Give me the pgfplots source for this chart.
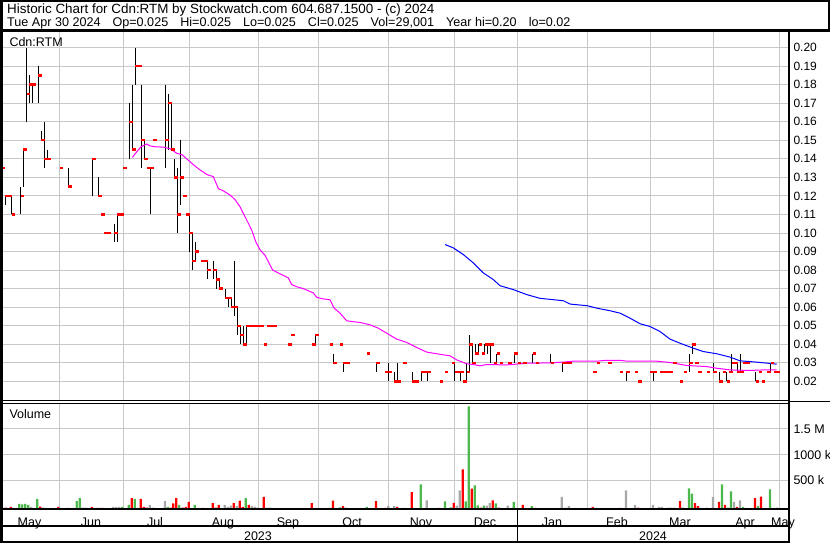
\documentclass[border=0pt]{standalone}
\usepackage{fontspec}
\setmainfont{Liberation Sans}
\usepackage{pgfplots}
\usepackage{pgfplotstable}
\pgfplotsset{compat=1.18}

\definecolor{gridgray}{RGB}{200,200,200}
\definecolor{volgreen}{RGB}{76,184,76}
\definecolor{volgray}{RGB}{168,168,168}
\definecolor{mapink}{RGB}{255,0,255}
\definecolor{mablue}{RGB}{0,0,255}

% red close tick, drawn to the right of the bar
\pgfdeclareplotmark{closetick}{%
  \pgfpathrectangle{\pgfpoint{0pt}{-1.2pt}}{\pgfpoint{3.3pt}{2.4pt}}%
  \pgfusepathqfill}

% x = position along the time axis (1 unit = one pixel of the chart)
\pgfplotstableread{
x hi lo cl
2 0.135 0.135 0.135
5.3 0.12 0.115 0.12
8.7 0.12 0.12 0.12
11.7 0.12 0.11 0.11
20.7 0.125 0.11 0.12
23.3 0.145 0.125 0.145
26.7 0.20 0.16 0.175
29.3 0.185 0.17 0.18
32.3 0.18 0.17 0.18
38.3 0.19 0.17 0.185
41.3 0.155 0.15 0.15
44.3 0.16 0.135 0.14
47.3 0.145 0.14 0.14
60 0.135 0.135 0.135
68.3 0.135 0.125 0.125
92.3 0.14 0.12 0.14
98.3 0.13 0.12 0.12
101.3 0.11 0.11 0.11
104.3 0.10 0.10 0.10
107.3 0.10 0.10 0.10
114.3 0.105 0.095 0.10
117.3 0.11 0.095 0.11
120.3 0.11 0.11 0.11
123.3 0.135 0.135 0.135
129.3 0.17 0.14 0.16
132.3 0.18 0.145 0.145
135.3 0.20 0.18 0.19
138.3 0.19 0.19 0.19
141.3 0.18 0.135 0.15
144.3 0.15 0.14 0.14
147.3 0.135 0.135 0.135
150.3 0.135 0.11 0.135
153.3 0.15 0.15 0.15
165.3 0.18 0.135 0.15
168.3 0.175 0.145 0.17
171.3 0.17 0.145 0.145
174.3 0.14 0.13 0.13
177.3 0.135 0.10 0.11
180.3 0.15 0.115 0.13
183.3 0.12 0.12 0.12
186.3 0.11 0.11 0.11
189.3 0.11 0.09 0.10
192.3 0.10 0.08 0.085
195.3 0.095 0.085 0.09
201.3 0.085 0.085 0.085
204.3 0.085 0.085 0.085
207.3 0.085 0.075 0.08
213.3 0.085 0.075 0.08
216.3 0.08 0.07 0.075
219.3 0.075 0.07 0.07
225.3 0.07 0.065 0.065
228.3 0.065 0.06 0.065
231.3 0.065 0.06 0.06
234.3 0.085 0.055 0.06
237.3 0.06 0.045 0.05
240.3 0.05 0.04 0.045
243.3 0.05 0.04 0.04
246.3 0.05 0.04 0.05
249.3 0.05 0.05 0.05
252.3 0.05 0.05 0.05
255.3 0.05 0.05 0.05
258.3 0.05 0.05 0.05
261 0.05 0.05 0.05
264 0.04 0.04 0.04
267.3 0.05 0.05 0.05
270.3 0.05 0.05 0.05
273.3 0.05 0.05 0.05
288.3 0.04 0.04 0.04
291.3 0.045 0.045 0.045
312.3 0.04 0.04 0.04
315.3 0.045 0.04 0.045
330 0.04 0.04 0.04
333.3 0.035 0.03 0.03
340 0.04 0.04 0.04
343.3 0.03 0.025 0.03
346.3 0.03 0.03 0.03
366.7 0.035 0.035 0.035
376.3 0.03 0.025 0.03
385 0.025 0.025 0.025
388.3 0.03 0.02 0.025
394.3 0.025 0.02 0.02
397.3 0.03 0.02 0.02
403.3 0.03 0.03 0.03
412.3 0.025 0.02 0.02
415.3 0.02 0.02 0.02
421.3 0.025 0.02 0.025
424.3 0.025 0.025 0.025
427.3 0.025 0.02 0.025
440 0.02 0.02 0.02
445 0.025 0.025 0.025
451.7 0.03 0.03 0.03
454.7 0.03 0.02 0.025
457.7 0.025 0.025 0.025
460.7 0.025 0.02 0.025
463.3 0.02 0.02 0.02
466.7 0.03 0.02 0.025
469.3 0.045 0.025 0.04
472.3 0.04 0.03 0.03
475.3 0.04 0.035 0.035
478.7 0.04 0.035 0.04
481.7 0.035 0.035 0.035
484.7 0.04 0.035 0.04
487.7 0.04 0.035 0.04
490.7 0.04 0.03 0.04
493.7 0.03 0.03 0.03
496.7 0.035 0.03 0.035
499.7 0.03 0.03 0.03
508.3 0.03 0.03 0.03
514.3 0.035 0.03 0.035
518 0.03 0.03 0.03
523.3 0.03 0.03 0.03
532.7 0.035 0.03 0.035
536 0.03 0.03 0.03
550.7 0.035 0.03 0.03
562.3 0.03 0.025 0.03
565.3 0.03 0.03 0.03
568.3 0.03 0.03 0.03
593.3 0.025 0.025 0.025
596.7 0.03 0.03 0.03
608.3 0.03 0.03 0.03
620 0.025 0.025 0.025
626.3 0.025 0.02 0.025
635 0.025 0.025 0.025
638.3 0.02 0.02 0.02
650 0.025 0.025 0.025
653.3 0.025 0.02 0.025
660 0.025 0.025 0.025
663.3 0.025 0.025 0.025
666.7 0.025 0.025 0.025
670 0.025 0.025 0.025
673.3 0.03 0.03 0.03
680 0.02 0.02 0.02
684 0.025 0.025 0.025
689.3 0.035 0.025 0.03
692.3 0.04 0.035 0.04
695.3 0.03 0.03 0.03
698.3 0.025 0.025 0.025
707 0.025 0.025 0.025
713.3 0.03 0.025 0.025
719.3 0.025 0.02 0.02
723 0.025 0.025 0.025
726.7 0.025 0.02 0.02
729.3 0.025 0.025 0.025
731.7 0.035 0.025 0.03
734.7 0.03 0.03 0.03
737.3 0.03 0.025 0.025
740.3 0.035 0.025 0.025
743.3 0.03 0.03 0.03
746.7 0.03 0.03 0.03
755.7 0.025 0.02 0.02
758.7 0.025 0.025 0.025
761.7 0.02 0.02 0.02
767.3 0.025 0.025 0.025
770.7 0.03 0.025 0.03
773.7 0.025 0.025 0.025
776.7 0.025 0.025 0.025
}\ohlc

% c: 1 = up (green), 2 = down (red), 0 = unchanged (grey)
\pgfplotstableread{
x v c
1.7 13000 0
4 26000 0
6 26000 2
10.7 39000 2
19.3 97000 1
22.3 90000 1
25.3 97000 1
28.3 78000 1
31.3 39000 0
37.3 194000 1
40.3 45000 2
43.3 26000 0
46.3 20000 0
58.3 39000 2
67.7 20000 2
73.7 20000 0
76.7 155000 1
79.7 213000 1
82.7 26000 0
85.7 26000 0
91.7 39000 2
97.3 20000 2
100.3 20000 2
103.3 20000 2
113.3 39000 0
116.3 39000 0
119.3 39000 0
122.3 39000 1
128.7 78000 1
131.7 213000 2
134.7 194000 1
137.7 20000 0
140.7 194000 2
143.7 39000 2
146.7 26000 2
149.7 78000 0
152.7 26000 0
165 155000 0
167.7 39000 1
170.7 26000 2
173.3 107000 2
176.3 213000 2
179.3 78000 1
182.7 26000 2
185.7 39000 2
188.7 136000 2
194.7 78000 1
203.3 20000 2
212.7 116000 2
215.7 26000 2
218.7 78000 2
224.7 78000 0
227.7 39000 0
230.7 65000 0
233.7 116000 2
236.7 58000 0
239.7 160000 2
242.7 39000 2
245.7 213000 1
248.7 78000 2
251.7 58000 0
254.7 39000 0
257.7 26000 0
263.7 233000 2
266.7 26000 0
269.7 26000 0
272.7 13000 0
290 13000 1
311.7 116000 2
314.7 20000 1
330 20000 2
333 160000 2
340 30000 1
343 58000 2
346 26000 0
366.7 39000 1
376 155000 2
385 20000 2
388.3 58000 0
394.3 58000 0
397.3 39000 2
403.3 20000 1
411.7 329000 2
420.7 478000 1
423.7 20000 0
426.7 168000 0
439 20000 2
445 149000 1
450.7 30000 1
453.7 117000 2
456.7 64000 0
459.7 362000 0
462.7 769000 2
465.7 149000 1
468.7 1990000 1
471.7 395000 2
474.7 459000 1
477.7 68000 1
480.7 26000 2
483.7 64000 1
486.7 64000 0
489.7 117000 0
492.7 168000 2
495.7 110000 1
498.7 26000 2
507.7 64000 0
513.7 140000 1
522.7 78000 2
531.7 58000 1
534.7 20000 2
549.3 13000 0
561.7 233000 0
565 26000 0
568.7 58000 0
592.7 39000 2
595.7 20000 1
608 20000 0
620 20000 2
626 362000 0
635 78000 0
638 26000 2
650 20000 1
653 78000 0
659 39000 0
662 39000 0
668 26000 0
671 26000 0
674 26000 0
680 155000 2
683 26000 1
689 400000 1
692 300000 1
695 116000 2
698 58000 2
707 26000 0
713 233000 0
719 136000 2
722 478000 1
725 78000 2
728 26000 1
731 343000 1
734 136000 0
737 39000 2
740 168000 0
743 39000 1
746 20000 0
755 213000 2
758 58000 1
761 240000 2
767 13000 1
770 380000 1
773 13000 2
776.7 29000 0
}\volume

\begin{document}
\begin{tikzpicture}
\useasboundingbox (0,0) rectangle (830pt,-543pt);

% ---------------- price panel ----------------
\begin{axis}[
  at={(1pt,-400.7pt)}, anchor=south west,
  width=788pt, height=369.7pt, scale only axis,
  xmin=1, xmax=789, ymin=0.0096, ymax=0.2089,
  axis line style={draw=none},
  xtick={59.3,123.3,189.3,258.3,318.7,388.3,454.3,517.5,587.7,650.7,713.3,779.3},
  xticklabels={},
  ytick={0.02,0.03,0.04,0.05,0.06,0.07,0.08,0.09,0.10,0.11,0.12,0.13,0.14,0.15,0.16,0.17,0.18,0.19,0.20},
  yticklabel pos=right,
  /pgf/number format/assume math mode=true,
  yticklabel style={/pgf/number format/.cd, fixed, fixed zerofill, precision=2,
    /tikz/.cd, font=\fontsize{12}{12}\selectfont, xshift=1pt},
  tick style={draw=none},
  grid=major, major grid style={gridgray, line width=1pt},
]
\addplot[only marks, mark=closetick, red,
  error bars/.cd, y dir=both, y explicit, error mark=none,
  error bar style={black, line width=1pt}]
  table[x=x, y=cl,
        y error plus expr=\thisrow{hi}-\thisrow{cl},
        y error minus expr=\thisrow{cl}-\thisrow{lo}] {\ohlc};

\addplot[mapink, line width=1pt] coordinates {
(132.3,0.1407) (137,0.1440) (141,0.1465) (146.7,0.148) (150,0.147) (155,0.1465)
(163,0.1463) (170,0.1455) (176.7,0.143) (182,0.1422) (186.7,0.140) (193,0.137)
(200,0.134) (207,0.1315) (213.3,0.1304) (218.3,0.124) (224,0.1225) (230,0.1205)
(235,0.118) (240,0.1142) (246.7,0.107) (251.7,0.1016) (256,0.095) (260,0.091)
(265,0.088) (272.7,0.080) (280,0.078) (288.3,0.0758) (291.7,0.0722) (297,0.071)
(303.3,0.070) (313.3,0.0677) (316.7,0.0653) (323,0.0645) (330,0.064) (334,0.0596)
(340,0.0568) (346.7,0.0527) (353,0.0522) (360,0.0518) (370,0.0505) (378.3,0.0487)
(386.7,0.046) (396.7,0.0428) (406.7,0.041) (416.7,0.0383) (426.7,0.0358)
(436.7,0.0349) (450,0.0338) (456.7,0.0316) (466.7,0.0295) (473.3,0.0291)
(480,0.0284) (486.7,0.0291) (506.7,0.0289) (526.7,0.0298) (550,0.030)
(563,0.0304) (573.3,0.0309) (596.7,0.0309) (606.7,0.0314) (620,0.0314)
(626.7,0.0309) (656.7,0.0309) (670,0.0302) (686.7,0.0286) (706.7,0.028)
(716.7,0.0271) (730,0.0262) (750,0.0259) (763.3,0.0262) (776.7,0.0262)
};
\addplot[mablue, line width=1pt] coordinates {
(445,0.0938) (453.3,0.092) (463.3,0.0884) (473.3,0.0839) (483.3,0.0785)
(493.3,0.0749) (500,0.0716) (513.3,0.0695) (526.7,0.0668) (540,0.0648)
(563.3,0.0635) (570,0.0617) (587.3,0.0608) (596.7,0.0595) (610,0.0581)
(620,0.0568) (630,0.0541) (640,0.0511) (650,0.0496) (660,0.0469) (670,0.0428)
(680,0.0406) (693.3,0.0379) (703.3,0.0361) (716.7,0.0349) (730,0.0331)
(740,0.0311) (756.7,0.0304) (776.7,0.0293)
};
\end{axis}

% ---------------- volume panel ----------------
\begin{axis}[
  at={(1pt,-509pt)}, anchor=south west,
  width=788pt, height=105.7pt, scale only axis,
  xmin=1, xmax=789, ymin=0, ymax=2048000,
  axis line style={draw=none},
  xtick={59.3,123.3,189.3,258.3,318.7,388.3,454.3,517.5,587.7,650.7,713.3,779.3},
  xticklabels={},
  extra x ticks={29.5,91,155,223,288,352,421,485,552,617,680,745,783},
  extra x tick labels={May,Jun,Jul,Aug,Sep,Oct,Nov,Dec,Jan,Feb,Mar,Apr,May},
  extra x tick style={grid=none, xticklabel style={anchor=base, yshift=-13pt}},
  scaled y ticks=false,
  ytick={552000,1052000,1552000},
  yticklabels={500 k,1000 k,1.5 M},
  yticklabel pos=right,
  yticklabel style={xshift=1pt},
  tick style={draw=none},
  ticklabel style={font=\fontsize{12.5}{12.5}\selectfont},
  grid=major, major grid style={gridgray, line width=1pt},
  ybar, bar width=2.3pt, bar shift=0pt,
]
\addplot[fill=volgreen, draw=none, restrict expr to domain={\thisrow{c}}{1:1}]
  table[x=x, y=v] {\volume};
\addplot[fill=red, draw=none, restrict expr to domain={\thisrow{c}}{2:2}]
  table[x=x, y=v] {\volume};
\addplot[fill=volgray, draw=none, restrict expr to domain={\thisrow{c}}{0:0}]
  table[x=x, y=v] {\volume};
\end{axis}

% ---------------- frame and texts ----------------
\draw[line width=2pt] (0.8pt,-1pt) -- (828.8pt,-1pt) -- (828.8pt,-30.5pt);
\draw[line width=2.4pt] (0pt,-30.5pt) -- (830pt,-30.5pt);
\draw[line width=2.5pt] (1.25pt,0pt) -- (1.25pt,-543pt);
\draw[line width=2pt] (789pt,-30.5pt) -- (789pt,-543pt);
\draw[line width=1pt] (0pt,-400.7pt) -- (789pt,-400.7pt);
\draw[line width=1pt] (0pt,-403.3pt) -- (789pt,-403.3pt);
\draw[line width=1.5pt] (789pt,-401.5pt) -- (830pt,-401.5pt);
\draw[line width=2pt] (0pt,-509.3pt) -- (789pt,-509.3pt);
\draw[line width=2pt] (0pt,-526.3pt) -- (789pt,-526.3pt);
\draw[line width=2pt] (0pt,-542.2pt) -- (789pt,-542.2pt);
\draw[line width=1.5pt] (517.5pt,-509.3pt) -- (517.5pt,-543pt);

\node[anchor=base west, inner sep=0pt, font=\fontsize{13.4}{14}\selectfont] at (7pt,-13.5pt)
  {Historic Chart for Cdn:RTM by Stockwatch.com 604.687.1500 - (c) 2024};
\node[anchor=base west, inner sep=0pt, font=\fontsize{12.6}{14}\selectfont] at (7pt,-26.3pt)
  {Tue Apr 30 2024\hspace{12pt}Op=0.025\hspace{12pt}Hi=0.025\hspace{12pt}Lo=0.025\hspace{12pt}Cl=0.025\hspace{12pt}Vol=29,001\hspace{12pt}Year hi=0.20\hspace{12pt}lo=0.02};
\begingroup
\fontsize{12.5}{14}\selectfont
\node[anchor=base west, inner sep=0pt] at (9.3pt,-46.5pt) {Cdn:RTM};
\node[anchor=base west, inner sep=0pt] at (9.3pt,-418pt) {Volume};
\node[anchor=base, inner sep=0pt] at (258pt,-540pt) {2023};
\node[anchor=base, inner sep=0pt] at (653pt,-540pt) {2024};
\endgroup
\end{tikzpicture}
\end{document}
